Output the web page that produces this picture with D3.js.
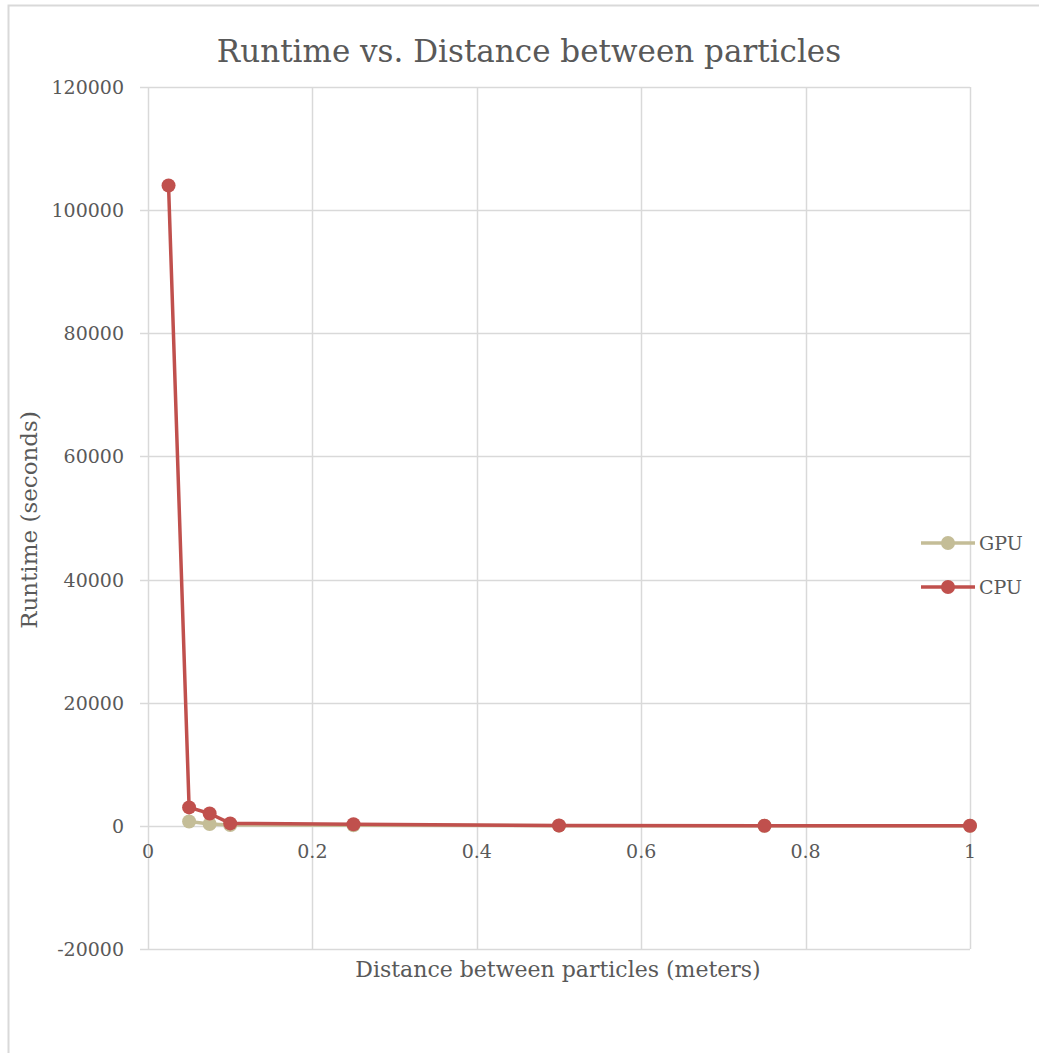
<!DOCTYPE html>
<html>
<head>
<meta charset="UTF-8">
<title>Runtime vs. Distance between particles</title>
<script src="https://cdnjs.cloudflare.com/ajax/libs/d3/7.8.5/d3.min.js"></script>
<style>
  body { margin: 0; background: #fff; }
  text { font-family: "DejaVu Serif", serif; fill: #595959; }
</style>
</head>
<body>
<div id="chart"></div>
<script>
// data
var distances = [0.025, 0.05, 0.075, 0.1, 0.25, 0.5, 0.75, 1];
var cpuRuntime = [104000, 3000, 2000, 400, 250, 50, 20, 10];
var gpuDistances = [0.05, 0.075, 0.1, 0.25, 0.5, 0.75, 1];
var gpuRuntime = [700, 300, 150, 100, 30, 10, 5];
var xTicks = [0, 0.2, 0.4, 0.6, 0.8, 1];
var yTicks = [-20000, 0, 20000, 40000, 60000, 80000, 100000, 120000];

var w = 1039, h = 1053;
var plotLeft = 148, plotRight = 970, plotTop = 87, plotBottom = 949;

var svg = d3.select("#chart").append("svg")
  .attr("width", w).attr("height", h);

// outer chart border (runs off the page to the right and bottom)
svg.append("rect")
  .attr("x", 8.5).attr("y", 5.5)
  .attr("width", 1100).attr("height", 1100)
  .attr("fill", "none").attr("stroke", "#d9d9d9").attr("stroke-width", 2);

var x = d3.scaleLinear().domain([0, 1]).range([plotLeft, plotRight]);
var y = d3.scaleLinear().domain([-20000, 120000]).range([plotBottom, plotTop]);

// gridlines
svg.append("g").selectAll("line").data(yTicks).join("line")
  .attr("x1", plotLeft - 8).attr("x2", plotRight)
  .attr("y1", function(d) { return Math.round(y(d)) + 0.5; })
  .attr("y2", function(d) { return Math.round(y(d)) + 0.5; })
  .attr("stroke", "#d9d9d9").attr("stroke-width", 1.5);

svg.append("g").selectAll("line").data(xTicks).join("line")
  .attr("x1", function(d) { return Math.round(x(d)) + 0.5; })
  .attr("x2", function(d) { return Math.round(x(d)) + 0.5; })
  .attr("y1", plotTop).attr("y2", plotBottom)
  .attr("stroke", "#d9d9d9").attr("stroke-width", 1.5);

// y tick labels
svg.append("g").selectAll("text").data(yTicks).join("text")
  .attr("x", plotLeft - 24)
  .attr("y", function(d) { return y(d) + 7; })
  .attr("text-anchor", "end")
  .attr("font-size", "19px")
  .text(function(d) { return d; });

// x tick labels
svg.append("g").selectAll("text").data(xTicks).join("text")
  .attr("x", function(d) { return x(d); })
  .attr("y", y(0) + 32)
  .attr("text-anchor", "middle")
  .attr("font-size", "19px")
  .text(function(d) { return d; });

// titles
svg.append("text")
  .attr("x", 529).attr("y", 62)
  .attr("text-anchor", "middle")
  .attr("font-size", "31px")
  .text("Runtime vs. Distance between particles");

svg.append("text")
  .attr("x", 558).attr("y", 977)
  .attr("text-anchor", "middle")
  .attr("font-size", "22px")
  .text("Distance between particles (meters)");

svg.append("text")
  .attr("transform", "translate(37,520) rotate(-90)")
  .attr("text-anchor", "middle")
  .attr("font-size", "23px")
  .text("Runtime (seconds)");

// series
var series = [
  { name: "GPU", color: "#c4bd97", xs: gpuDistances, ys: gpuRuntime },
  { name: "CPU", color: "#c0504d", xs: distances, ys: cpuRuntime }
];

var line = d3.line()
  .x(function(d) { return x(d[0]); })
  .y(function(d) { return y(d[1]); });

series.forEach(function(s) {
  var pts = d3.zip(s.xs, s.ys);
  svg.append("path")
    .datum(pts)
    .attr("d", line)
    .attr("fill", "none")
    .attr("stroke", s.color)
    .attr("stroke-width", 3.5)
    .attr("stroke-linejoin", "round");
  svg.append("g").selectAll("circle").data(pts).join("circle")
    .attr("cx", function(d) { return x(d[0]); })
    .attr("cy", function(d) { return y(d[1]); })
    .attr("r", 7)
    .attr("fill", s.color);
});

// legend
var legend = svg.append("g").selectAll("g").data(series).join("g")
  .attr("transform", function(d, i) { return "translate(921," + (543 + i * 44) + ")"; });
legend.append("line")
  .attr("x1", 0).attr("x2", 54)
  .attr("stroke", function(d) { return d.color; })
  .attr("stroke-width", 3.5);
legend.append("circle")
  .attr("cx", 27).attr("r", 7)
  .attr("fill", function(d) { return d.color; });
legend.append("text")
  .attr("x", 58).attr("y", 7)
  .attr("font-size", "19px")
  .text(function(d) { return d.name; });
</script>
</body>
</html>
